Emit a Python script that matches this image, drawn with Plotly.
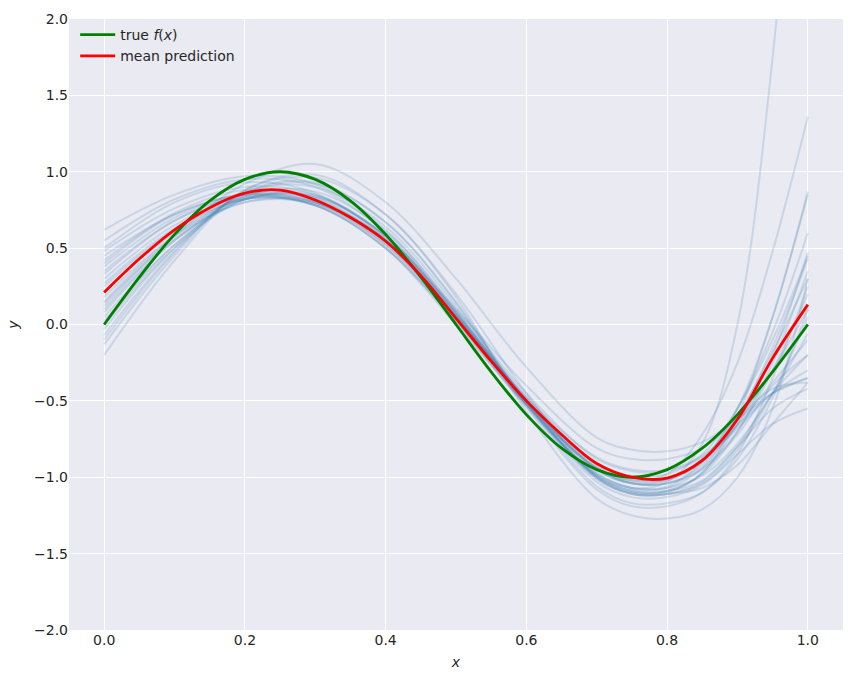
import plotly.graph_objects as go

x_pts = [0.0, 0.1, 0.2, 0.3, 0.4, 0.5, 0.6, 0.7, 0.75, 0.8, 0.85, 0.9, 0.95, 1.0]

# true f(x)
true_x = [0.0, 0.05, 0.1, 0.15, 0.2, 0.25, 0.3, 0.35, 0.4, 0.45, 0.5, 0.55,
          0.6, 0.65, 0.7, 0.75, 0.8, 0.85, 0.9, 0.95, 1.0]
true_y = [0.0, 0.31, 0.59, 0.81, 0.95, 1.0, 0.95, 0.81, 0.59, 0.31, 0.0, -0.31,
          -0.59, -0.81, -0.95, -1.0, -0.95, -0.81, -0.59, -0.31, 0.0]

# mean prediction (read at the same x positions as true f(x))
mean_y = [0.21, 0.43, 0.62, 0.765, 0.86, 0.88, 0.815, 0.70, 0.545, 0.32, 0.04, -0.24,
          -0.50, -0.72, -0.91, -1.00, -1.005, -0.89, -0.62, -0.22, 0.13]

# individual bootstrap fits
fit_01 = [0.62, 0.85, 0.97, 0.92, 0.62, 0.10, -0.45, -0.88, -0.96, -0.96, -0.87, -0.68, -0.45, -0.30]
fit_02 = [0.55, 0.82, 0.95, 0.90, 0.60, 0.08, -0.47, -0.92, -1.01, -1.01, -0.90, -0.66, -0.38, -0.10]
fit_03 = [0.50, 0.80, 0.93, 0.86, 0.56, 0.05, -0.50, -0.95, -1.04, -1.04, -0.92, -0.65, -0.30, 0.10]
fit_04 = [0.48, 0.76, 0.90, 0.85, 0.57, 0.06, -0.48, -0.87, -0.95, -0.95, -0.86, -0.66, -0.45, -0.35]
fit_05 = [0.42, 0.73, 0.88, 0.83, 0.55, 0.05, -0.50, -0.93, -1.02, -1.01, -0.88, -0.60, -0.18, 0.30]
fit_06 = [0.38, 0.70, 0.86, 0.82, 0.55, 0.05, -0.49, -0.95, -1.04, -1.04, -0.94, -0.70, -0.30, 0.20]
fit_07 = [0.33, 0.68, 0.85, 0.80, 0.52, 0.03, -0.50, -0.91, -0.99, -0.98, -0.85, -0.55, -0.10, 0.45]
fit_08 = [0.30, 0.65, 0.83, 0.78, 0.50, 0.00, -0.52, -0.94, -1.03, -1.02, -0.90, -0.63, -0.30, 0.00]
fit_09 = [0.27, 0.63, 0.82, 0.79, 0.53, 0.05, -0.48, -0.94, -1.04, -1.04, -0.95, -0.72, -0.40, -0.20]
fit_10 = [0.22, 0.60, 0.82, 0.80, 0.54, 0.04, -0.52, -0.99, -1.08, -1.07, -0.94, -0.62, -0.15, 0.43]
fit_11 = [0.18, 0.58, 0.80, 0.79, 0.55, 0.07, -0.49, -0.97, -1.07, -1.07, -0.99, -0.78, -0.45, -0.06]
fit_12 = [0.14, 0.56, 0.80, 0.80, 0.55, 0.06, -0.51, -0.99, -1.09, -1.09, -0.98, -0.70, -0.25, 0.35]
fit_13 = [0.10, 0.55, 0.82, 0.83, 0.58, 0.08, -0.50, -0.99, -1.09, -1.09, -1.02, -0.80, -0.55, -0.42]
fit_14 = [0.08, 0.55, 0.84, 0.85, 0.58, 0.06, -0.52, -1.00, -1.10, -1.10, -0.97, -0.65, -0.20, 0.47]
fit_15 = [0.05, 0.52, 0.82, 0.84, 0.58, 0.07, -0.52, -1.01, -1.11, -1.11, -1.03, -0.80, -0.45, -0.20]
fit_16 = [0.02, 0.52, 0.84, 0.87, 0.61, 0.09, -0.52, -1.03, -1.13, -1.13, -1.05, -0.85, -0.65, -0.55]
fit_17 = [-0.03, 0.50, 0.86, 0.90, 0.64, 0.12, -0.50, -1.01, -1.11, -1.11, -1.04, -0.82, -0.45, 0.05]
fit_18 = [-0.07, 0.48, 0.86, 0.92, 0.67, 0.15, -0.52, -1.06, -1.17, -1.17, -1.10, -0.88, -0.48, 0.10]
fit_19 = [-0.10, 0.47, 0.87, 0.93, 0.67, 0.14, -0.54, -1.08, -1.19, -1.19, -1.10, -0.85, -0.35, 0.25]
fit_20 = [-0.13, 0.45, 0.88, 0.96, 0.72, 0.20, -0.45, -1.00, -1.11, -1.11, -1.07, -0.92, -0.65, -0.38]
fit_21 = [-0.20, 0.42, 0.88, 0.98, 0.72, 0.18, -0.57, -1.14, -1.25, -1.27, -1.21, -1.00, -0.55, 0.30]
fit_22 = [0.12, 0.58, 0.92, 1.05, 0.80, 0.30, -0.28, -0.74, -0.82, -0.83, -0.77, -0.62, -0.45, -0.35]
fit_23 = [0.25, 0.62, 0.82, 0.78, 0.52, 0.04, -0.52, -0.94, -1.02, -0.98, -0.72, -0.25, 0.48, 1.36]
fit_24 = [0.35, 0.68, 0.84, 0.78, 0.50, 0.02, -0.53, -0.98, -1.07, -1.03, -0.78, 0.00, 1.75, 4.50]
fit_25 = [0.45, 0.72, 0.85, 0.78, 0.50, 0.02, -0.54, -0.98, -1.07, -1.06, -0.90, -0.55, 0.05, 0.87]
fit_26 = [0.00, 0.50, 0.82, 0.84, 0.58, 0.08, -0.50, -1.00, -1.10, -1.09, -0.97, -0.60, 0.05, 0.85]
fit_27 = [0.15, 0.58, 0.83, 0.81, 0.55, 0.05, -0.50, -0.95, -1.04, -1.02, -0.89, -0.55, -0.05, 0.60]
fit_28 = [0.40, 0.72, 0.85, 0.80, 0.56, 0.10, -0.40, -0.81, -0.88, -0.88, -0.81, -0.62, -0.42, -0.38]

fits = [fit_01, fit_02, fit_03, fit_04, fit_05, fit_06, fit_07, fit_08, fit_09, fit_10,
        fit_11, fit_12, fit_13, fit_14, fit_15, fit_16, fit_17, fit_18, fit_19, fit_20,
        fit_21, fit_22, fit_23, fit_24, fit_25, fit_26, fit_27, fit_28]

y_ticks = [-2.0, -1.5, -1.0, -0.5, 0.0, 0.5, 1.0, 1.5, 2.0]
x_ticks = [0.0, 0.2, 0.4, 0.6, 0.8, 1.0]

fig = go.Figure()
for f in fits:
    fig.add_trace(go.Scatter(
        x=x_pts, y=f, mode="lines", line=dict(color="rgba(70,130,180,0.2)", width=2, shape="spline"),
        showlegend=False, hoverinfo="skip"))

fig.add_trace(go.Scatter(x=true_x, y=true_y, mode="lines", name="true <i>f</i>(<i>x</i>)",
                         line=dict(color="green", width=2.8, shape="spline")))
fig.add_trace(go.Scatter(x=true_x, y=mean_y, mode="lines", name="mean prediction",
                         line=dict(color="red", width=2.8, shape="spline")))

tfont = dict(family="DejaVu Sans", size=14, color="#262626")
fig.update_layout(
    width=854, height=679,
    margin=dict(l=69, r=11, t=15, b=48),
    paper_bgcolor="white", plot_bgcolor="#EAEAF2",
    font=tfont,
    legend=dict(x=0.008, y=1.0, xanchor="left", yanchor="top", bgcolor="rgba(0,0,0,0)",
                font=tfont, itemwidth=35, tracegroupgap=2),
    xaxis=dict(range=[-0.05, 1.05], tickvals=x_ticks, tickformat=".1f", showgrid=True,
               gridcolor="white", gridwidth=1.3, zeroline=False, showline=False, ticks="",
               tickfont=tfont,
               title=dict(text="<i>x</i>", font=tfont, standoff=10)),
    yaxis=dict(range=[-2.0, 2.0], tickvals=y_ticks, tickformat=".1f", showgrid=True,
               gridcolor="white", gridwidth=1.3, zeroline=False, showline=False, ticks="",
               tickfont=tfont,
               title=dict(text="<i>y</i>", font=tfont, standoff=12)),
)
fig.write_html("out.html")
